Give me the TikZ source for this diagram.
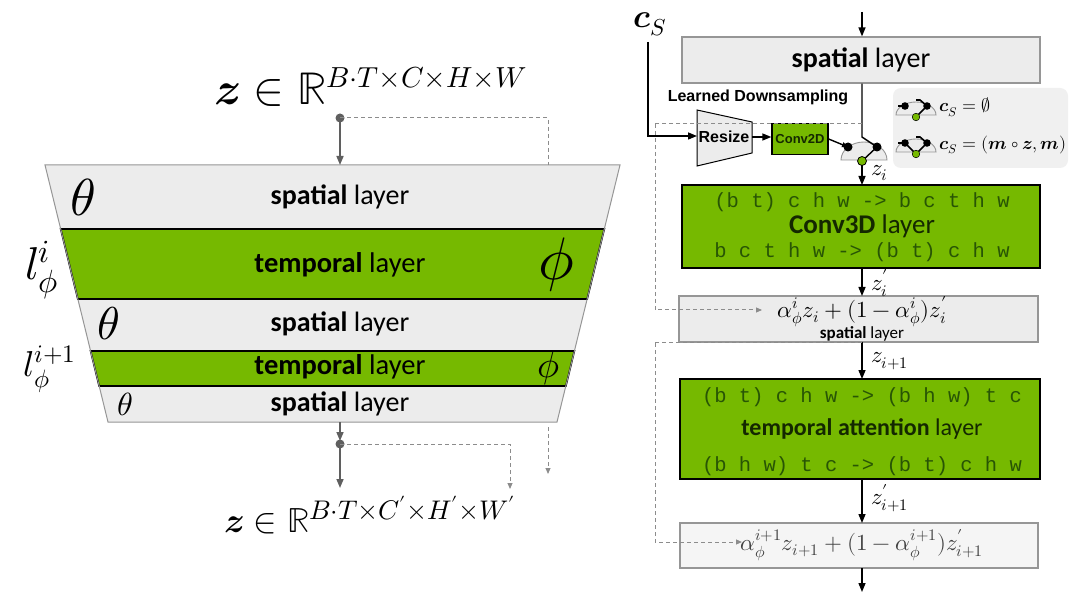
\documentclass[tikz,border=0pt]{standalone}
\usepackage{graphicx}
\usepackage{fontspec}
\usepackage{unicode-math}
\setmathfont{latinmodern-math.otf}
\setmainfont{Carlito}
\setmonofont{Liberation Mono}
\newfontfamily\arialf{Liberation Sans}
\usetikzlibrary{arrows.meta}
\definecolor{ngreen}{RGB}{118,185,0}
\definecolor{lgray}{RGB}{236,236,236}
\definecolor{bgray}{RGB}{150,150,150}
\definecolor{agray}{RGB}{95,95,95}
\definecolor{dgray}{RGB}{140,140,140}
\definecolor{mgreen}{RGB}{40,85,5}
\definecolor{dkgreen}{RGB}{20,40,0}
\definecolor{legbg}{RGB}{240,240,240}
\newcommand\fs[1]{\fontsize{#1}{#1}\selectfont}
\tikzset{
 gband/.style={fill=ngreen,draw=black,line width=1.6pt,line join=miter},
 larr/.style={draw=agray,line width=1.6pt,-{Triangle[length=9pt,width=7pt]}},
 ldash/.style={draw=dgray,line width=1pt,dash pattern=on 4pt off 3pt},
 ldasharr/.style={ldash,-{Triangle[length=6pt,width=5pt]}},
 rarr/.style={draw=black,line width=1.4pt,-{Triangle[length=9pt,width=7pt]}},
 rdash/.style={draw=dgray,line width=1pt,dash pattern=on 4pt off 3pt},
 sbox/.style={fill=lgray,draw=bgray,line width=1.2pt,inner sep=0},
 gbox/.style={fill=ngreen,draw=black,line width=1.8pt,inner sep=0},
 txt/.style={inner sep=0},
 mono/.style={inner sep=0,font=\ttfamily\fs{20.5},text=mgreen},
 dome/.style={fill=lgray,draw=bgray,line width=0.9pt},
}
\begin{document}
\begin{tikzpicture}[x=1pt,y=1pt]
\useasboundingbox[fill=white] (0,0) rectangle (1080,-604);

% ---------------- left trapezoid ----------------
\fill[lgray] (45,-165) -- (620,-165) -- (557,-422) -- (108,-422) -- cycle;
\draw[gband] (60.7,-229) -- (604.3,-229) -- (587.2,-299) -- (77.8,-299) -- cycle;
\draw[gband] (90.6,-351) -- (574.4,-351) -- (565.9,-386) -- (99.1,-386) -- cycle;
\draw[bgray,line width=1pt] (45,-165) -- (620,-165) -- (557,-422) -- (108,-422) -- cycle;

\node[txt,font=\fs{28}] (s1) at (340,-197) {\textbf{spatial} layer};
\node[txt,font=\fs{28.5}] (t1) at (340,-265) {\textbf{temporal} layer};
\node[txt,font=\fs{28}] (s2) at (340,-324) {\textbf{spatial} layer};
\node[txt,font=\fs{28.5}] (t2) at (340,-367) {\textbf{temporal} layer};
\node[txt,font=\fs{28}] (s3) at (340,-404) {\textbf{spatial} layer};

\node[txt,font=\fs{52}] (th1) at (83,-197) {$\theta$};
\node[txt,font=\fs{46}] (th2) at (109,-324) {$\theta$};
\node[txt,font=\fs{32}] (th3) at (125,-404) {$\theta$};
\node[txt,font=\fs{60}] (ph1) at (557,-265) {$\phi$};
\node[txt,font=\fs{37}] (ph2) at (549,-368) {$\phi$};
\node[txt,font=\fs{46}] (l1) at (42,-270) {$l^{i}_{\phi}$};
\node[txt,font=\fs{36}] (l2) at (50,-369) {$l^{i+1}_{\phi}$};

\node[txt,font=\fs{46}] (ztop) at (371,-87) {$\symbfit{z}\in\mathbb{R}^{\scalebox{0.9}{$\scriptstyle B\cdot T\times C\times H\times W$}}$};
\node[txt,font=\fs{35}] (zbot) at (370,-515) {$\symbfit{z}\in\mathbb{R}^{\scalebox{1.1}{$\scriptstyle B\cdot T\times C'\times H'\times W'$}}$};

\coordinate (dtop) at (340,-118);
\coordinate (trtop) at (340,-165);
\coordinate (trbot) at (340,-422);
\coordinate (dbot) at (340,-444);
\coordinate (zend) at (340,-488);
\fill[agray] (dtop) circle (4.5);
\draw[larr] (dtop) -- (trtop);
\draw[ldash] (dtop) -- (548,-118) -- (548,-165);
\draw[larr,shorten >=3pt] (trbot) -- (dbot);
\fill[agray] (dbot) circle (4.5);
\draw[larr] (dbot) -- (zend);
\draw[ldasharr] (dbot) -- (510,-444) -- (510,-489);
\draw[ldasharr] (548,-427) -- (548,-474);

% ---------------- right column ----------------
\node[sbox,minimum width=358,minimum height=46] (sp) at (861,-60) {\fs{28}\textbf{spatial} layer};
\coordinate (intop) at (862,-12);
\draw[rarr] (intop) -- (intop |- sp.north);

\node[txt,font=\fs{33}] (cs) at (650,-24) {$\symbfit{c}_S$};
\node[txt,font=\arialf\bfseries\fs{16}] (ld) at (758,-97) {Learned Downsampling};

\draw[fill=lgray,draw=black,line width=1pt] (697,-110) -- (752,-122) -- (752,-153) -- (697,-166) -- cycle;
\node[txt,font=\arialf\bfseries\fs{16}] (rs) at (724,-137) {Resize};
\node[gbox,line width=1.3pt,minimum width=56,minimum height=31,font=\arialf\bfseries\fs{13},text=dkgreen] (c2) at (800,-139) {Conv2D};

\coordinate (csturn) at (648,-136);
\draw[rarr] (648,-42) -- (csturn) -- (697,-136);
\draw[rarr] (752,-137) -- (c2.west |- 0,-137);

% gate
\fill[dome] (841,-160) arc[start angle=180,end angle=0,x radius=23,y radius=18] -- cycle;
\coordinate (gl) at (848,-147);
\coordinate (gr) at (877,-147);
\coordinate (gg) at (862,-161);
\draw[line width=1.4pt] (sp.south -| 862,0) -- (862,-137) -- (gr);
\draw[line width=1.4pt] (gr) -- (gg);
\draw[rarr,-{Triangle[length=6pt,width=5pt]}] (c2.east |- 0,-139) -- (gl);
\fill (gl) circle (4.5);
\fill (gr) circle (4.5);

% skip dashed from spatial output
\draw[rdash] (862,-124) -- (655,-124);

% legend
\fill[legbg,rounded corners=8] (893,-88) rectangle (1068,-168);
\begin{scope}[shift={(916,-115)}]
 \fill[dome] (-20,0) arc[start angle=180,end angle=0,x radius=20,y radius=13] -- cycle;
 \draw[line width=1.6pt] (-18,9) -- (-11,9);
 \draw[line width=1.6pt] (0,15) -- (4,15) -- (11,9) -- (0,-2);
 \fill (-11,9) circle (3.8); \fill (11,9) circle (3.8);
 \fill[ngreen,draw=black,line width=0.5pt] (0,-2) circle (3.8);
\end{scope}
\begin{scope}[shift={(916,-152)}]
 \fill[dome] (-20,0) arc[start angle=180,end angle=0,x radius=20,y radius=13] -- cycle;
 \draw[line width=1.6pt] (-18,9) -- (-11,9) -- (0,-2) -- (11,9);
 \draw[line width=1.6pt] (0,15) -- (4,15) -- (11,9);
 \fill (-11,9) circle (3.8); \fill (11,9) circle (3.8);
 \fill[ngreen,draw=black,line width=0.5pt] (0,-2) circle (3.8);
\end{scope}
\node[txt,anchor=west,font=\fs{18}] (lg1) at (939,-107) {$\symbfit{c}_S=\emptyset$};
\node[txt,anchor=west,font=\fs{18}] (lg2) at (939,-145) {$\symbfit{c}_S=(\symbfit{m}\circ\symbfit{z},\symbfit{m})$};

% Conv3D
\node[gbox,minimum width=358,minimum height=83] (c3) at (861,-226.5) {};
\node[mono] (c3a) at (862,-202) {(b t) c h w -> b c t h w};
\node[txt,font=\fs{27},text=dkgreen] (c3b) at (862,-226) {\textbf{Conv3D} layer};
\node[mono] (c3c) at (862,-252) {b c t h w -> (b t) c h w};
\fill[ngreen,draw=black,line width=0.8pt] (gg) circle (4.5);
\draw[rarr] (gg) ++(0,-4.5) -- (862,-185);
\node[txt,font=\fs{23},anchor=west] (zi) at (871,-173) {$z_i$};

% blend
\node[sbox,minimum width=359,minimum height=46] (bl) at (858.5,-319) {};
\node[txt,font=\fs{23}] (blf) at (862,-312) {$\alpha^{i}_{\phi}z_i+(1-\alpha^{i}_{\phi})z'_i$};
\node[txt,font=\fs{17}] (blt) at (862,-334) {\textbf{spatial} layer};
\draw[rarr] (862,-269) -- (862,-296);
\node[txt,font=\fs{23},anchor=west] (zpi) at (871,-283) {$z'_i$};
\draw[rdash,-{Triangle[length=6pt,width=5pt]}] (655,-124) -- (655,-310) -- (762,-310);

% temporal attention
\node[gbox,minimum width=360,minimum height=100] (ta) at (860,-429) {};
\node[mono] (taa) at (862,-397) {(b t) c h w -> (b h w) t c};
\node[txt,font=\fs{24},text=dkgreen] (tab) at (862,-429) {\textbf{temporal attention} layer};
\node[mono] (tac) at (862,-466) {(b h w) t c -> (b t) c h w};
\draw[rarr] (862,-342) -- (862,-379);
\node[txt,font=\fs{23},anchor=west] (zi1) at (871,-361) {$z_{i+1}$};
\draw[rdash] (862,-343) -- (655,-343);

% last blend
\node[sbox,fill=lgray!50,minimum width=358,minimum height=45] (bl2) at (859,-545.5) {};
\node[txt,font=\fs{23},text=black!75] (bl2f) at (862,-545) {$\alpha^{i+1}_{\phi}z_{i+1}+(1-\alpha^{i+1}_{\phi})z'_{i+1}$};
\draw[rarr] (862,-479) -- (862,-523);
\node[txt,font=\fs{23},anchor=west] (zpi1) at (871,-498) {$z'_{i+1}$};
\draw[rdash,-{Triangle[length=6pt,width=5pt]}] (655,-343) -- (655,-542) -- (742,-542);
\draw[rarr] (862,-568) -- (862,-592);
\end{tikzpicture}
\end{document}
